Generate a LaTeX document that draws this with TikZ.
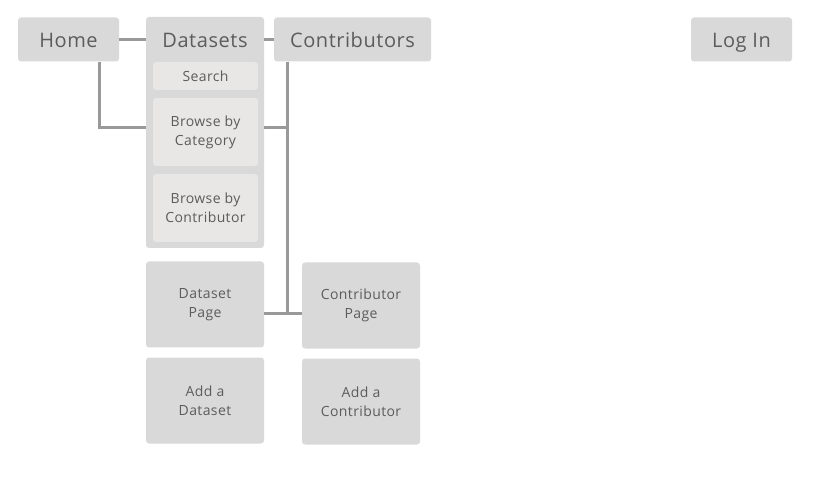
\documentclass[tikz,border=0pt]{standalone}
\usepackage{fontspec}
\setmainfont{Open Sans}[LetterSpace=2.8]
\usepackage{tikz}
\usetikzlibrary{positioning,calc}
\definecolor{boxgray}{HTML}{D9D9D9}
\definecolor{subgray}{HTML}{E8E7E6}
\definecolor{linegray}{HTML}{999999}
\definecolor{textgray}{HTML}{5C5C5C}
\tikzstyle{page} = [fill=boxgray, rounded corners=3pt, inner sep=0pt, text=textgray, align=center, font={\fontsize{14}{19}\selectfont}]
\tikzstyle{heading} = [text=textgray, inner sep=0pt, text height=16pt, text depth=0pt, font={\fontsize{20}{24}\selectfont}]
\tikzstyle{top} = [page, heading, minimum height=44pt]
\tikzstyle{sub} = [page, fill=subgray, minimum width=105pt]
\tikzstyle{big} = [page, minimum width=118pt, minimum height=86pt]
\tikzstyle{link} = [draw=linegray, line width=3pt]

\begin{document}
\begin{tikzpicture}[x=1pt,y=-1pt]
        \useasboundingbox (0,0) rectangle (814,494);
        \node[top,minimum width=101pt](home) at (68.5,39.5){Home};
        \node[page,minimum width=118pt,minimum height=231pt](datasets) at (205,132.5){};
        \node[heading](dshead) at (205,40){Datasets};
        \node[top,minimum width=157pt](contrib) at (352.5,39.5){Contributors};
        \node[top,minimum width=101pt](login) at (741.5,39.5){Log In};
        \node[sub,minimum height=28pt](search) at (205.5,76){Search};
        \node[sub,minimum height=68pt](bycat) at (205.5,132){Browse by\\Category};
        \node[sub,minimum height=68pt](bycontrib) at (205.5,208){Browse by\\Contributor};
        \node[big](dspage) at (205,304.5){Dataset\\Page};
        \node[big](cpage) at (361,305.5){Contributor\\Page};
        \node[big](addds) at (205,400.5){Add a\\Dataset};
        \node[big](addc) at (361,401.5){Add a\\Contributor};
        \coordinate(trunk) at ([xshift=14pt]contrib.south west);
        \draw[link](home.east)--(home.east -| datasets.west);
        \draw[link](contrib.west -| datasets.east)--(contrib.west);
        \draw[link]([xshift=-20pt]home.south east)|-([yshift=4pt]bycat.center -| datasets.west);
        \draw[link]([yshift=4pt]bycat.center -| datasets.east)--([yshift=4pt]bycat.center -| trunk);
        \draw[link](trunk)--([yshift=-9.5pt]dspage.center -| trunk);
        \draw[link]([yshift=-9.5pt]dspage.east)--([yshift=-9.5pt]dspage.east -| cpage.west);
      \end{tikzpicture}
\end{document}
